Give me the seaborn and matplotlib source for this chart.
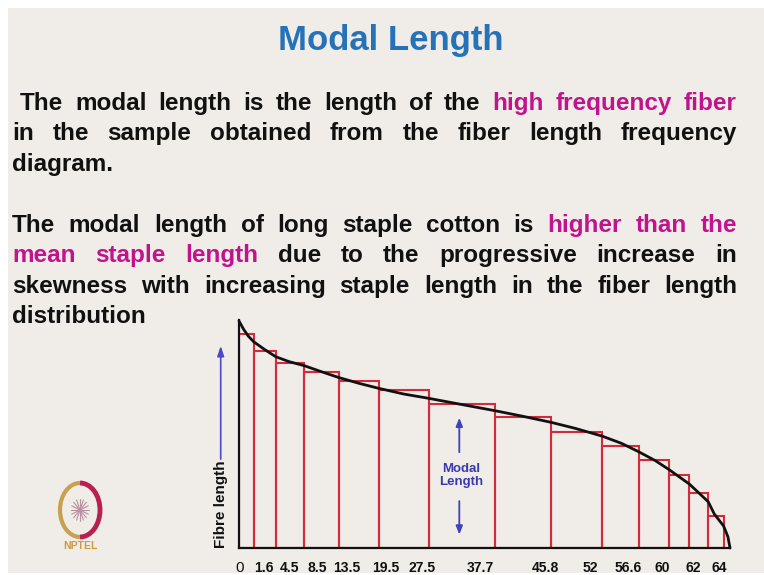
import numpy as np
import matplotlib.pyplot as plt
import seaborn as sns
from matplotlib.patches import Rectangle, Arc

# bar edges / heights of the fibre length diagram (units: px offsets)
bar_edges = [0, 14.6, 36.7, 65.3, 100.3, 139.6, 189.6, 256, 312, 362.8, 399.6, 429.6, 450.3, 469.2, 484.6]
bar_heights = [213.7, 197.3, 184.7, 176, 167, 157.7, 144, 131.3, 115.7, 102, 88, 72.7, 54.7, 31.7]

# smooth fibre length curve
curve_x = [0, 4.6, 9.2, 14.6, 25.3, 36.7, 50.3, 65.3, 82.4, 100.3, 119.9, 139.6, 164.6, 189.6,
           225.3, 256, 282.4, 312, 336, 362.8, 382.4, 399.6, 416.4, 429.6, 450.3, 469.2, 475.3,
           484.6, 488.9, 491]
curve_y = [227, 218.7, 212, 206.3, 198.7, 191.3, 186.3, 182.3, 176.3, 170.3, 164.7, 159.7, 154,
           149.7, 143, 137.3, 132, 125.7, 119.7, 112, 104.7, 96.3, 87.3, 78.7, 64, 46.3, 34,
           22, 11.3, 0]

tick_pos = [1, 24.6, 51, 78, 108, 146.7, 183, 241, 306, 351, 389, 423.5, 454.6, 480]
tick_labels = ["0", "1.6", "4.5", "8.5", "13.5", "19.5", "27.5", "37.7", "45.8", "52",
               "56.6", "60", "62", "64"]

BLACK = "#111111"
MAGENTA = "#c0138c"
RED = "#d42a3c"
BLUE = "#3a3aaa"
TITLE_BLUE = "#2672b8"
BG = "#f0ede8"

W, H = 764, 575

sns.set_style("white")
plt.rcParams["font.family"] = ["Liberation Sans", "DejaVu Sans"]

fig = plt.figure(figsize=(W / 100, H / 100), dpi=100)
fig.patch.set_facecolor("white")
fig.patches.append(Rectangle((8 / W, 2 / H), 1, 1 - 10 / H, transform=fig.transFigure,
                             facecolor=BG, edgecolor="none", zorder=-10))
renderer = fig.canvas.get_renderer()

# title
fig.text(391 / W, 1 - 50 / H, "Modal Length", color=TITLE_BLUE, fontsize=25,
         fontweight="bold", ha="center", va="baseline")

# body text: (words with colours, baseline y, x start, justified?)
K, M = BLACK, MAGENTA
lines = [
    ([("The", K), ("modal", K), ("length", K), ("is", K), ("the", K), ("length", K), ("of", K),
      ("the", K), ("high", M), ("frequency", M), ("fiber", M)], 110, 20, True),
    ([("in", K), ("the", K), ("sample", K), ("obtained", K), ("from", K), ("the", K),
      ("fiber", K), ("length", K), ("frequency", K)], 140, 12, True),
    ([("diagram.", K)], 171, 12, False),
    ([("The", K), ("modal", K), ("length", K), ("of", K), ("long", K), ("staple", K),
      ("cotton", K), ("is", K), ("higher", M), ("than", M), ("the", M)], 232, 12, True),
    ([("mean", M), ("staple", M), ("length", M), ("due", K), ("to", K), ("the", K),
      ("progressive", K), ("increase", K), ("in", K)], 262, 12, True),
    ([("skewness", K), ("with", K), ("increasing", K), ("staple", K), ("length", K), ("in", K),
      ("the", K), ("fiber", K), ("length", K)], 293, 12, True),
    ([("distribution", K)], 323, 12, False),
]
FS = 17.5
RIGHT = 737
for words, yb, x0, justify in lines:
    texts, widths = [], []
    for w, c in words:
        t = fig.text(0, 1 - yb / H, w, color=c, fontsize=FS, fontweight="bold",
                     ha="left", va="baseline")
        texts.append(t)
        widths.append(t.get_window_extent(renderer).width)
    if justify and len(words) > 1:
        gap = (RIGHT - x0 - sum(widths)) / (len(words) - 1)
    else:
        gap = 0.278 * FS * 100 / 72
    x = x0
    for t, wd in zip(texts, widths):
        t.set_x(x / W)
        x += wd + gap

# diagram
ax = fig.add_axes([239 / W, (H - 548) / H, 491 / W, 228 / H])
ax.patch.set_alpha(0)
mids = [(a + b) / 2 for a, b in zip(bar_edges[:-1], bar_edges[1:])]
sns.histplot(x=mids, weights=bar_heights, bins=bar_edges, fill=False, color=RED,
             linewidth=1.5, ax=ax)
sns.lineplot(x=curve_x, y=curve_y, color=BLACK, linewidth=2, sort=False, ax=ax, zorder=5)
for ln in ax.lines:
    ln.set_clip_on(False)
ax.set_xlim(0, 491)
ax.set_ylim(0, 228)
ax.set_xlabel("")
ax.set_ylabel("")
ax.set_yticks([])
ax.set_xticks(tick_pos, tick_labels, fontsize=10, fontweight="bold")
ax.get_xticklabels()[0].set_fontweight("normal")
ax.get_xticklabels()[0].set_fontsize(11)
ax.tick_params(axis="x", length=0, pad=9, colors=BLACK)
for s in ["top", "right"]:
    ax.spines[s].set_visible(False)
for s in ["left", "bottom"]:
    ax.spines[s].set_color(BLACK)
    ax.spines[s].set_linewidth(1.6)
    ax.spines[s].set_zorder(6)

# Fibre length axis label with arrow
ax.text(-18.3, 0, "Fibre length", rotation=90, ha="center", va="bottom", fontsize=11,
        fontweight="bold", color=BLACK, clip_on=False)
ax.annotate("", xy=(-18.3, 205), xytext=(-18.3, 86), annotation_clip=False,
            arrowprops=dict(arrowstyle="-|>,head_length=0.6,head_width=0.2", color="#4a4ac4", lw=1.2))

# Modal length marker
ax.text(222.5, 72.5, "Modal\nLength", ha="center", va="center", fontsize=9.5,
        fontweight="bold", color=BLUE, linespacing=1.1)
ax.annotate("", xy=(220.3, 133), xytext=(220.3, 93),
            arrowprops=dict(arrowstyle="-|>,head_length=0.5,head_width=0.2", color="#4040c0", lw=1.3))
ax.annotate("", xy=(220.3, 10.7), xytext=(220.3, 49.7),
            arrowprops=dict(arrowstyle="-|>,head_length=0.5,head_width=0.2", color="#4040c0", lw=1.3))

# NPTEL logo (rough)
lax = fig.add_axes([50 / W, (H - 552) / H, 60 / W, 72 / H])
lax.set_xlim(0, 60)
lax.set_ylim(0, 72)
lax.axis("off")
lax.add_patch(Arc((30, 42), 40, 54, theta1=90, theta2=270, color="#c8a050", lw=3))
lax.add_patch(Arc((30, 42), 40, 54, theta1=-90, theta2=90, color="#b82050", lw=3.5))
for a in np.linspace(0, np.pi, 8, endpoint=False):
    lax.plot([30 - 9 * np.cos(a), 30 + 9 * np.cos(a)], [42 - 11 * np.sin(a), 42 + 11 * np.sin(a)],
             color="#b890a0", lw=0.8)
lax.text(30, 6, "NPTEL", ha="center", va="center", fontsize=7.5, fontweight="bold", color="#d09a40")

fig.savefig("out.png", dpi=100, facecolor=fig.get_facecolor())
